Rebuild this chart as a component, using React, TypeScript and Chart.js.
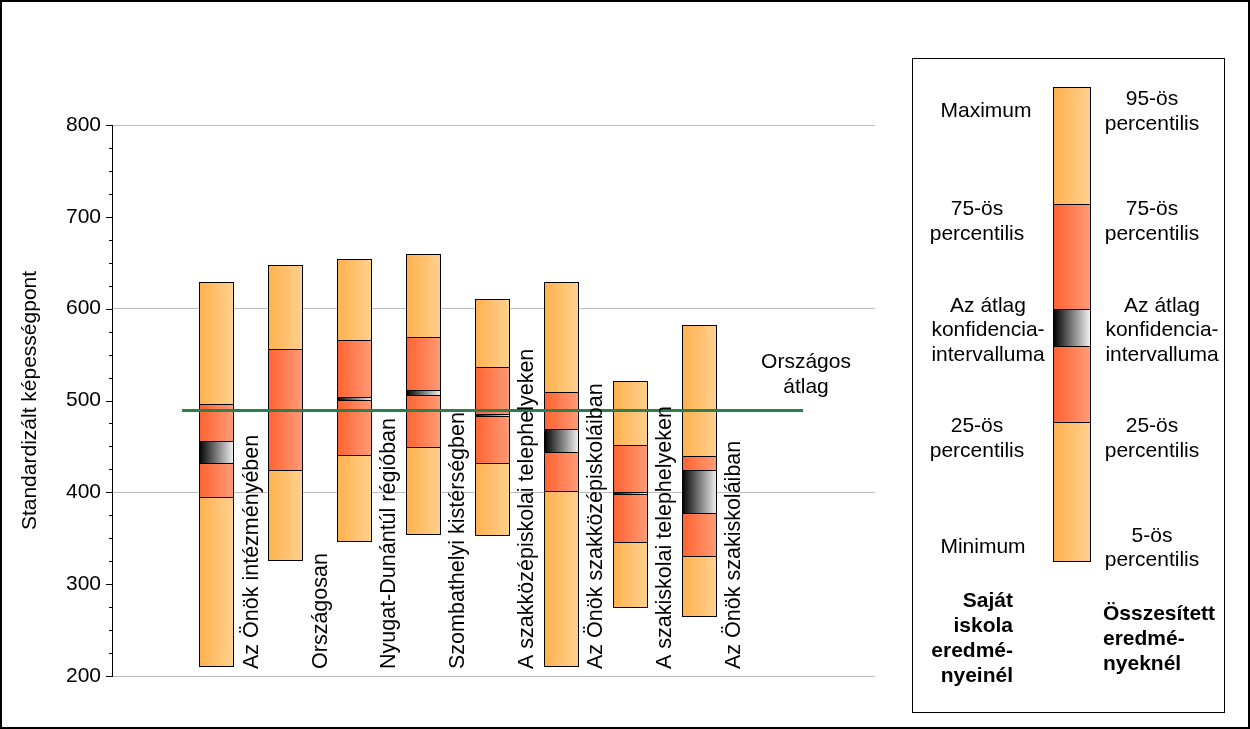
import React, { useEffect, useRef } from 'react';
import { Chart, registerables } from 'chart.js';

Chart.register(...registerables);

// ---- data ----
const categories = [
  'Az Önök intézményében',
  'Országosan',
  'Nyugat-Dunántúl régióban',
  'Szombathelyi kistérségben',
  'A szakközépiskolai telephelyeken',
  'Az Önök szakközépiskoláiban',
  'A szakiskolai telephelyeken',
  'Az Önök szakiskoláiban',
];
const lowerEnd = [210, 325, 346, 354, 352, 210, 274, 264];
const q25 = [395, 424, 441, 449, 432, 401, 346, 331];
const ciLower = [432, 489, 501, 506, 483.5, 444, 398, 377];
const ciUpper = [456, 490, 504, 511, 485.5, 469, 400, 424];
const q75 = [496, 556, 566, 569, 537, 509, 451, 440];
const upperEnd = [629, 648, 654, 659, 610, 629, 521, 582];
const nationalMean = 489;
const nationalLabel = ['Országos', 'átlag'];
const yTitle = 'Standardizált képességpont';

// legend texts
const legendLeft = [
  { lines: ['Maximum'], cx: 986, y: 117 },
  { lines: ['75-ös', 'percentilis'], cx: 977, y: 215 },
  { lines: ['Az átlag', 'konfidencia-', 'intervalluma'], cx: 988, y: 311.5 },
  { lines: ['25-ös', 'percentilis'], cx: 977, y: 432 },
  { lines: ['Minimum'], cx: 983, y: 553 },
];
const legendRight = [
  { lines: ['95-ös', 'percentilis'], cx: 1152, y: 105 },
  { lines: ['75-ös', 'percentilis'], cx: 1152, y: 215 },
  { lines: ['Az átlag', 'konfidencia-', 'intervalluma'], cx: 1162, y: 311.5 },
  { lines: ['25-ös', 'percentilis'], cx: 1152, y: 432 },
  { lines: ['5-ös', 'percentilis'], cx: 1152, y: 541.5 },
];
const legendBoldLeft = ['Saját', 'iskola', 'eredmé-', 'nyeinél'];
const legendBoldRight = ['Összesített', 'eredmé-', 'nyeknél'];

// ---- styles ----
const FONT = "'Liberation Sans', Arial, sans-serif";
const BAR_W = 35;
const orangeGrad = ['#FFB04E', '#FFD18F'];
const redGrad = ['#FF6230', '#FF9C78'];
const grayGrad = ['#000000', '#F4F4F4'];
const GREEN = '#2E7D4E';
// x domain chosen so that bar edges fall on whole pixels (crisp outlines)
const X_MIN = -0.0145;
const X_MAX = 11.0435;

function makeGrad(c: CanvasRenderingContext2D, x0: number, x1: number, colors: string[]) {
  const g = c.createLinearGradient(x0, 0, x1, 0);
  g.addColorStop(0, colors[0]);
  g.addColorStop(1, colors[1]);
  return g;
}

function barGrad(ctx: any, colors: string[]) {
  const chart = ctx.chart;
  const xs = chart.scales && chart.scales.x;
  if (!xs || !ctx.parsed) return colors[0];
  const cx = xs.getPixelForValue(ctx.parsed.x);
  if (!Number.isFinite(cx)) return colors[0];
  return makeGrad(chart.ctx, cx - BAR_W / 2, cx + BAR_W / 2, colors);
}

// snap bar ends to whole pixels so the outlines are crisp
const snapPlugin = {
  id: 'snapBars',
  beforeDatasetsDraw(chart: any) {
    chart.getSortedVisibleDatasetMetas().forEach((meta: any) => {
      if (meta.type !== 'bar') return;
      meta.data.forEach((el: any) => {
        if (Number.isFinite(el.y)) el.y = Math.round(el.y);
        if (Number.isFinite(el.base)) el.base = Math.round(el.base);
      });
    });
  },
};

const overlayPlugin = {
  id: 'overlay',
  beforeDraw(chart: any) {
    const c = chart.ctx;
    c.save();
    c.fillStyle = '#fff';
    c.fillRect(0, 0, chart.width, chart.height);
    c.restore();
  },
  afterDatasetsDraw(chart: any) {
    const c: CanvasRenderingContext2D = chart.ctx;
    const xs = chart.scales.x;
    const area = chart.chartArea;
    c.save();
    c.fillStyle = '#000';
    c.font = `21.5px ${FONT}`;
    categories.forEach((name, i) => {
      const cx = xs.getPixelForValue(i + 1.5);
      c.save();
      c.translate(cx + 41, area.bottom - 7);
      c.rotate(-Math.PI / 2);
      c.textAlign = 'left';
      c.textBaseline = 'alphabetic';
      c.fillText(name, 0, 0);
      c.restore();
    });
    // national average label
    c.font = `21px ${FONT}`;
    c.textAlign = 'center';
    c.textBaseline = 'alphabetic';
    const nx = xs.getPixelForValue(10) + 3;
    nationalLabel.forEach((t, k) => c.fillText(t, nx, 368 + k * 25));
    c.restore();
  },
  afterDraw(chart: any) {
    const c: CanvasRenderingContext2D = chart.ctx;
    const ys = chart.scales.y;
    const area = chart.chartArea;
    c.save();
    // y tick marks
    c.strokeStyle = '#000';
    c.lineWidth = 1;
    ys.ticks.forEach((t: any) => {
      const py = Math.round(ys.getPixelForValue(t.value)) + 0.5;
      const len = t.value % 100 === 0 ? 6 : 3;
      c.beginPath();
      c.moveTo(area.left - len, py);
      c.lineTo(area.left, py);
      c.stroke();
    });

    // legend box
    c.strokeStyle = '#000';
    c.lineWidth = 1;
    c.strokeRect(912.5, 58.5, 312, 654);

    // legend pictogram
    const lx0 = 1053.5, lx1 = 1090.5;
    const segs: [number, number, string[]][] = [
      [87.5, 204.5, orangeGrad],
      [204.5, 309.5, redGrad],
      [309.5, 346.5, grayGrad],
      [346.5, 422.5, redGrad],
      [422.5, 561.5, orangeGrad],
    ];
    segs.forEach(([t, b, col]) => {
      c.fillStyle = makeGrad(c, lx0, lx1, col);
      c.fillRect(lx0, t, lx1 - lx0, b - t);
      c.strokeRect(lx0, t, lx1 - lx0, b - t);
    });

    // legend texts
    c.fillStyle = '#000';
    c.font = `21px ${FONT}`;
    c.textAlign = 'center';
    c.textBaseline = 'alphabetic';
    [...legendLeft, ...legendRight].forEach((item) => {
      item.lines.forEach((t, k) => c.fillText(t, item.cx, item.y + k * 24.5));
    });
    c.font = `bold 21px ${FONT}`;
    c.textAlign = 'right';
    legendBoldLeft.forEach((t, k) => c.fillText(t, 1013, 606.5 + k * 25));
    c.textAlign = 'left';
    legendBoldRight.forEach((t, k) => c.fillText(t, 1103, 620 + k * 25));

    // outer frame
    c.lineWidth = 2;
    c.strokeRect(1, 1, chart.width - 2, chart.height - 2);
    c.restore();
  },
};

export default function App() {
  const ref = useRef<HTMLCanvasElement | null>(null);

  useEffect(() => {
    if (!ref.current) return;
    const segments: [number[], number[], string[], any][] = [
      [lowerEnd, q25, orangeGrad, false],
      [q25, ciLower, redGrad, 'start'],
      [ciLower, ciUpper, grayGrad, 'start'],
      [ciUpper, q75, redGrad, 'start'],
      [q75, upperEnd, orangeGrad, 'start'],
    ];
    const barSets = segments.map(([lo, hi, colors, skip]) => ({
      type: 'bar' as const,
      data: categories.map((_, i) => ({ x: i + 1.5, y: [lo[i], hi[i]] })),
      backgroundColor: (ctx: any) => barGrad(ctx, colors),
      borderColor: '#000',
      borderWidth: 1,
      borderSkipped: skip,
      barThickness: BAR_W,
      grouped: false,
      inflateAmount: 0,
      order: 1,
    }));
    const lineSet = {
      type: 'line' as const,
      data: [
        { x: 1, y: nationalMean },
        { x: 10, y: nationalMean },
      ],
      borderColor: GREEN,
      borderWidth: 3,
      pointRadius: 0,
      fill: false,
      order: 0,
    };

    Chart.defaults.font.family = FONT;
    const chart = new Chart(ref.current, {
      type: 'bar',
      data: { datasets: [lineSet as any, ...barSets] },
      options: {
        responsive: false,
        animation: false,
        devicePixelRatio: 1,
        layout: { padding: { left: 0, top: 125, right: 375, bottom: 53 } },
        plugins: { legend: { display: false }, tooltip: { enabled: false } },
        scales: {
          x: { type: 'linear', min: X_MIN, max: X_MAX, offset: false, display: false },
          y: {
            min: 200,
            max: 800,
            afterFit: (s: any) => {
              s.width = 112;
            },
            ticks: {
              stepSize: 25,
              autoSkip: false,
              padding: 11,
              color: '#000',
              font: { size: 21, family: FONT },
              callback: (v: any) => (Number(v) % 100 === 0 ? String(v) : ''),
            },
            grid: {
              drawTicks: false,
              color: (ctx: any) =>
                ctx.tick && ctx.tick.value % 200 === 0 ? '#BDBDBD' : 'rgba(0,0,0,0)',
              lineWidth: 1,
            },
            border: { display: true, color: '#000', width: 1 },
            title: {
              display: true,
              text: yTitle,
              color: '#000',
              font: { size: 21, family: FONT },
              padding: { top: 18, bottom: 0 },
            },
          },
        },
      },
      plugins: [snapPlugin, overlayPlugin],
    } as any);
    return () => chart.destroy();
  }, []);

  return (
    <div style={{ position: 'absolute', left: 0, top: 0, width: 1250, height: 729, background: '#fff' }}>
      <canvas ref={ref} width={1250} height={729} style={{ display: 'block' }} />
    </div>
  );
}
